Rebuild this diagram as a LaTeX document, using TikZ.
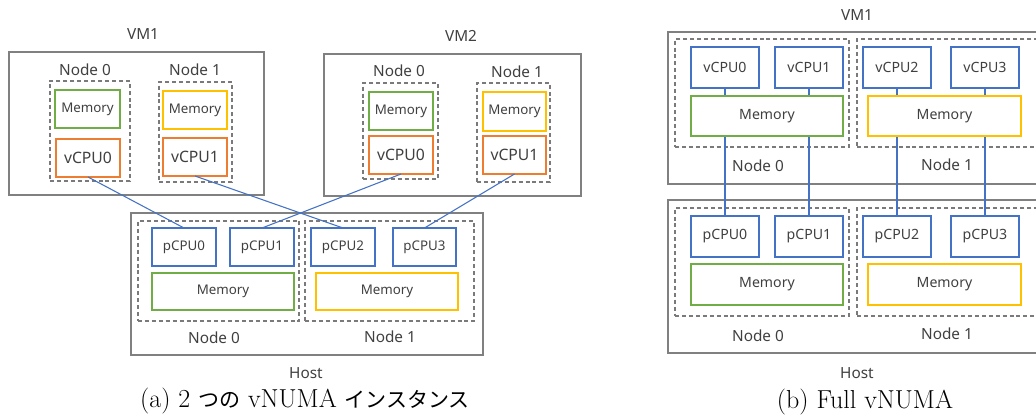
\documentclass[tikz,border=0pt]{standalone}
\usepackage{fontspec}
\newfontfamily\lab{Noto Sans}
\newfontfamily\jp{Noto Sans CJK JP}
\definecolor{bxgray}{HTML}{808080}
\definecolor{dgray}{HTML}{7A7A7A}
\definecolor{cblue}{HTML}{4472C4}
\definecolor{cgreen}{HTML}{70AD47}
\definecolor{corange}{HTML}{ED7D31}
\definecolor{cyellow}{HTML}{FFC000}
\definecolor{txt}{HTML}{404040}
\newcommand\bx[7]{\node[#2, minimum width={(#5-#3)*0.75pt}, minimum height={(#6-#4)*0.75pt}] (#1) at ({(#3+#5)/2},{(#4+#6)/2}) {#7};}
\tikzset{
  base/.style={inner sep=0pt, outer sep=0pt, text=txt, font=\lab\fontsize{10}{12}\selectfont},
  outerbox/.style={base, draw=bxgray, line width=0.9pt},
  nodebox/.style={base, draw=dgray, line width=0.9pt, dash pattern=on 3pt off 2.2pt},
  memg/.style={base, draw=cgreen, fill=white, line width=0.9pt},
  memy/.style={base, draw=cyellow, fill=white, line width=0.9pt},
  vcpuo/.style={base, draw=corange, fill=white, line width=0.9pt, font=\lab\fontsize{11.8}{13}\selectfont},
  cpub/.style={base, draw=cblue, fill=white, line width=0.9pt},
  bigtext/.style={font=\lab\fontsize{10.6}{12}\selectfont},
  lbl/.style={inner sep=0pt, text=txt, font=\lab\fontsize{11.5}{13}\selectfont},
  captext/.style={inner sep=0pt, anchor=base, text=black, font=\fontsize{19.5}{22}\selectfont},
  link/.style={draw=cblue, line width=0.8pt},
}
\newcommand\jpt[1]{{\jp\fontsize{15.75}{18}\selectfont #1}}
\begin{document}
\begin{tikzpicture}[x=0.75pt,y=-0.75pt]
\clip (0,0) rectangle (1036,418);
% ---------- (a) ----------
% VM1
\node[lbl] (avm1l) at (143,34) {VM1};
\bx{avm1}{outerbox}{9}{52}{264}{195}{}
\node[lbl] (avm1n0l) at (85,70) {Node 0};
\bx{avm1n0}{nodebox}{50}{81}{130}{181}{}
\bx{avm1m0}{memg}{55}{90}{120}{128}{Memory}
\bx{avm1c0}{vcpuo}{56}{139}{120}{177}{vCPU0}
\node[lbl] (avm1n1l) at (195,70) {Node 1};
\bx{avm1n1}{nodebox}{159}{82}{232}{182}{}
\bx{avm1m1}{memy}{163}{91}{227}{129}{Memory}
\bx{avm1c1}{vcpuo}{163}{138}{227}{176}{vCPU1}
% VM2
\node[lbl] (avm2l) at (461,36) {VM2};
\bx{avm2}{outerbox}{324}{54}{581}{196}{}
\node[lbl] (avm2n0l) at (399,71) {Node 0};
\bx{avm2n0}{nodebox}{363}{83}{438}{179}{}
\bx{avm2m0}{memg}{369}{92}{433}{130}{Memory}
\bx{avm2c0}{vcpuo}{369}{136}{433}{174}{vCPU0}
\node[lbl] (avm2n1l) at (517,72) {Node 1};
\bx{avm2n1}{nodebox}{477}{83}{550}{182}{}
\bx{avm2m1}{memy}{483}{92}{546}{131}{Memory}
\bx{avm2c1}{vcpuo}{483}{136}{546}{174}{vCPU1}
% Host
\bx{ahost}{outerbox}{131}{213}{483}{355}{}
\bx{ahn0}{nodebox}{138}{221}{299}{321}{}
\bx{ahn1}{nodebox}{305}{221}{474}{321}{}
\bx{ap0}{cpub}{152}{228}{216}{266}{pCPU0}
\bx{ap1}{cpub}{230}{228}{294}{266}{pCPU1}
\bx{ap2}{cpub}{311}{228}{375}{266}{pCPU2}
\bx{ap3}{cpub}{393}{228}{456}{266}{pCPU3}
\bx{ahm0}{memg}{152}{273}{294}{310}{Memory}
\bx{ahm1}{memy}{316}{273}{458}{310}{Memory}
\node[lbl] (ahn0l) at (214,338) {Node 0};
\node[lbl] (ahn1l) at (390,337) {Node 1};
\node[lbl] (ahostl) at (306,373) {Host};
\node[captext] (acap) at (305,407) {(a) 2 \jpt{つの} vNUMA \jpt{インスタンス}};
% links (a)
\draw[link] (avm1c0.south) -- (ap0.north);
\draw[link] (avm1c1.south) -- (ap2.north);
\draw[link] (avm2c0.south) -- (ap1.north);
\draw[link] (avm2c1.south) -- (ap3.north);
% ---------- (b) ----------
\node[lbl] (bvm1l) at (857,15) {VM1};
\bx{bvm1}{outerbox}{668}{32}{1060}{184}{}
\bx{bvn0}{nodebox}{675}{39}{849}{147}{}
\bx{bvn1}{nodebox}{857}{39}{1060}{147}{}
\bx{bhost}{outerbox}{668}{200}{1060}{353}{}
\bx{bhn0}{nodebox}{675}{208}{849}{316}{}
\bx{bhn1}{nodebox}{857}{208}{1060}{316}{}
\bx{bv0}{cpub,bigtext}{691}{47}{759}{88}{vCPU0}
\bx{bv1}{cpub,bigtext}{775}{47}{843}{88}{vCPU1}
\bx{bv2}{cpub,bigtext}{863}{47}{931}{88}{vCPU2}
\bx{bv3}{cpub,bigtext}{951}{47}{1019}{88}{vCPU3}
\bx{bp0}{cpub,bigtext}{691}{216}{759}{257}{pCPU0}
\bx{bp1}{cpub,bigtext}{775}{216}{843}{257}{pCPU1}
\bx{bp2}{cpub,bigtext}{863}{216}{931}{257}{pCPU2}
\bx{bp3}{cpub,bigtext}{951}{216}{1019}{257}{pCPU3}
\draw[link] (bv0.south) -- (bp0.north);
\draw[link] (bv1.south) -- (bp1.north);
\draw[link] (bv2.south) -- (bp2.north);
\draw[link] (bv3.south) -- (bp3.north);
\bx{bvm0}{memg,bigtext}{691}{96}{843}{136}{Memory}
\bx{bvm1m}{memy,bigtext}{868}{96}{1021}{136}{Memory}
\bx{bhm0}{memg,bigtext}{691}{264}{843}{305}{Memory}
\bx{bhm1}{memy,bigtext}{868}{264}{1021}{305}{Memory}
\node[lbl] (bvn0l) at (758,166) {Node 0};
\node[lbl] (bvn1l) at (947,165) {Node 1};
\node[lbl] (bhn0l) at (758,336) {Node 0};
\node[lbl] (bhn1l) at (947,334) {Node 1};
\node[lbl] (bhostl) at (857,373) {Host};
\node[captext] (bcap) at (865,408) {(b) Full vNUMA};
\end{tikzpicture}
\end{document}
